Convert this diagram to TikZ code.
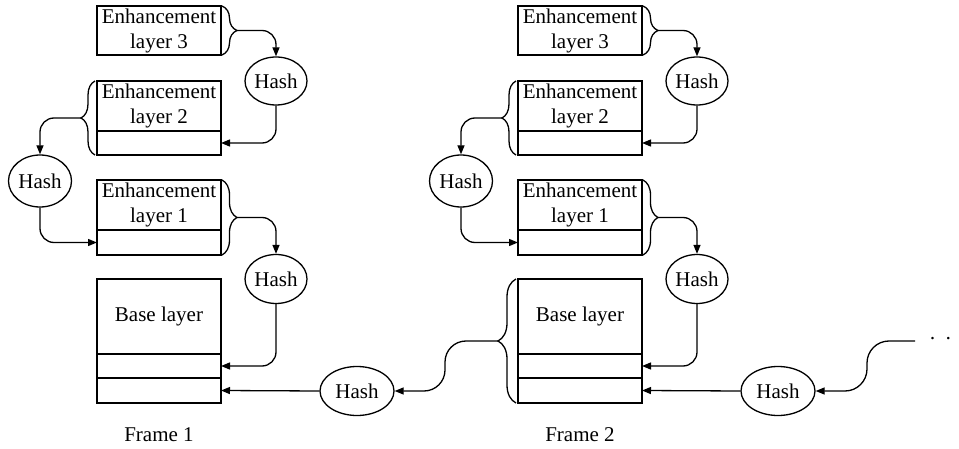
\documentclass[tikz,border=0pt]{standalone}
\usepackage{fontspec}
\setmainfont{LiberationSerif}[Extension=.ttf,UprightFont=*-Regular,BoldFont=*-Bold]
\usetikzlibrary{shapes.geometric,arrows.meta,decorations.pathreplacing}
\begin{document}
\begin{tikzpicture}[x=1pt,y=-1pt,
  font=\fontsize{21}{25}\selectfont,
  line width=1.3pt,
  lay/.style={draw, minimum width=124pt, inner sep=0pt, outer sep=0pt, align=center, anchor=north west},
  hashnode/.style={draw, ellipse, inner sep=0pt, minimum width=62pt, minimum height=49pt},
  arr/.style={-{Triangle[length=9pt,width=7pt]}, rounded corners=14pt},
  brc/.style={decorate, decoration={brace, amplitude=#1}}]
\useasboundingbox (0,0) rectangle (959,449);
\foreach \dx/\f in {0/1,421/2}{
  % layers
  \node[lay, minimum height=49pt] (e3-\f) at ({97+\dx},6) {Enhancement\\layer 3};
  \node[lay, minimum height=50pt] (e2-\f) at ({97+\dx},81) {Enhancement\\layer 2};
  \node[lay, minimum height=24pt] (s2-\f) at ({97+\dx},131) {};
  \node[lay, minimum height=50pt] (e1-\f) at ({97+\dx},180) {Enhancement\\layer 1};
  \node[lay, minimum height=25pt] (s1-\f) at ({97+\dx},230) {};
  \node[lay, minimum height=75pt] (bl-\f) at ({97+\dx},279) {Base layer};
  \node[lay, minimum height=24pt] (b1-\f) at ({97+\dx},354) {};
  \node[lay, minimum height=25pt] (b2-\f) at ({97+\dx},378) {};
  % hashes
  \node[hashnode, minimum height=48pt] (h3-\f) at ({276+\dx},81) {Hash};
  \node[hashnode, minimum width=63pt, minimum height=52pt] (h2-\f) at ({40+\dx},181) {Hash};
  \node[hashnode] (h1-\f) at ({276+\dx},279) {Hash};
  \node[hashnode, minimum width=74pt] (hb-\f) at ({357+\dx},391) {Hash};
  % braces
  \draw[brc=15pt] ({222+\dx},6) -- ({222+\dx},55);
  \coordinate (t3-\f) at ({237+\dx},30.5);
  \draw[brc=14pt] ({95+\dx},155) -- ({95+\dx},81);
  \coordinate (t2-\f) at ({81+\dx},118);
  \draw[brc=15pt] ({222+\dx},180) -- ({222+\dx},255);
  \coordinate (t1-\f) at ({237+\dx},217.5);
  % connectors
  \draw[arr] (t3-\f) -| (h3-\f.north);
  \draw[arr] (h3-\f.south) |- (s2-\f.east);
  \draw[arr] (t2-\f) -| (h2-\f.north);
  \draw[arr] (h2-\f.south) |- (s1-\f.west);
  \draw[arr] (t1-\f) -| (h1-\f.north);
  \draw[arr] (h1-\f.south) |- (b1-\f.east);
  \draw[arr] (hb-\f.west) -- (b2-\f.east);
}
% brace of frame 2 base layer, linking to the hash of frame 1
\draw[brc=18pt] (516,403) -- (516,279);
\coordinate (t0) at (498,341);
\coordinate (k0a) at (445,341);
\coordinate (k0b) at (445,391);
\draw[arr, rounded corners=21pt] (t0) -- (k0a) -- (k0b) -- (hb-1.east);
% incoming from next frame
\node[inner sep=0pt] (dots) at (940.5,341) {·\hspace{9pt}·};
\coordinate (r0) at (915,341);
\coordinate (k1a) at (867,341);
\coordinate (k1b) at (867,391);
\draw[arr, rounded corners=22pt] (r0) -- (k1a) -- (k1b) -- (hb-2.east);
% labels
\node (f1) at (159,435) {Frame 1};
\node (f2) at (580,435) {Frame 2};
\end{tikzpicture}
\end{document}
